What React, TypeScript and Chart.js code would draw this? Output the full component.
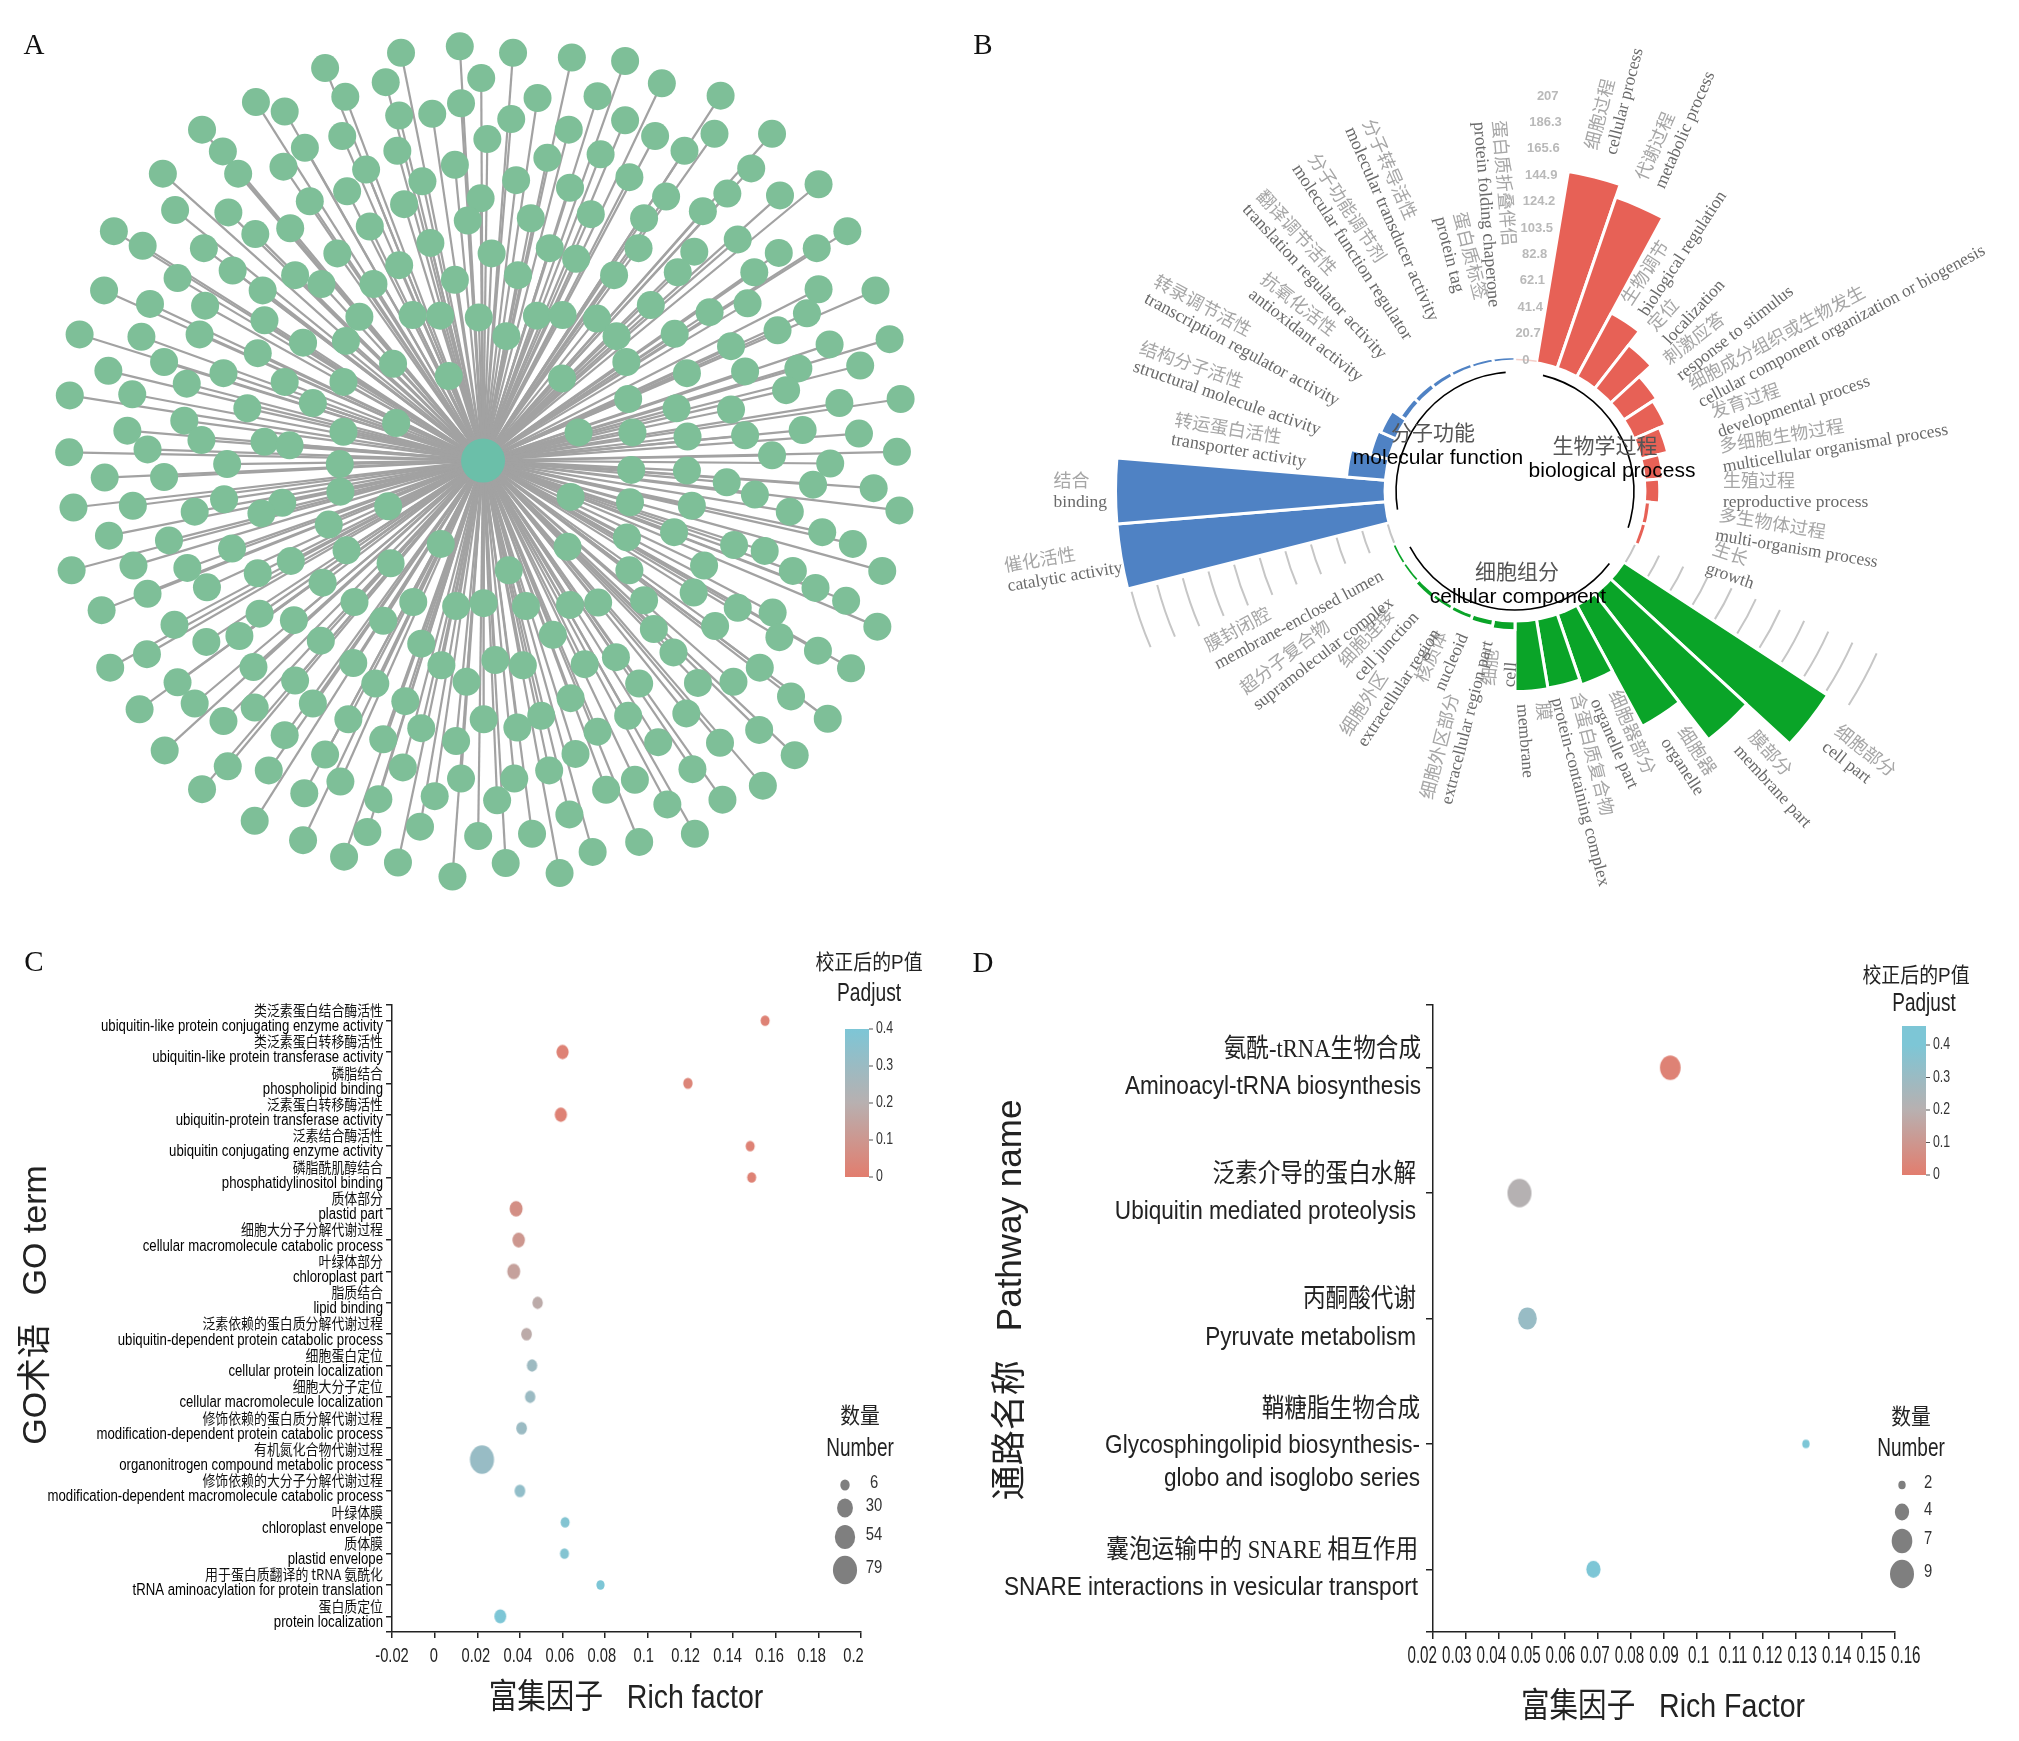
import React, { useEffect, useRef } from "react";
import { Chart, registerables } from "chart.js";

Chart.register(...registerables);

const PAGE_W = 2019;
const PAGE_H = 1741;
const SANS = '"Liberation Sans", "Noto Sans CJK SC"';
const SERIF = '"Liberation Serif", "Noto Sans CJK SC"';
const CJK = '"Noto Sans CJK SC"';

/* ---------- Panel A: network ---------- */
const hubNode = { x: 789, y: 785 };
const leafNodes: number[][] = [
  [655,90],[751,79],[838,90],[934,98],[1021,104],[1081,142],[1177,163],[531,116],[630,140],[786,133],[564,165],[878,167],[976,164],[418,174],[465,190],[652,197],[706,194],[753,176],[835,203],[1021,205],[929,221],[1070,232],[1167,228],[1261,228],[330,221],[364,258],[559,232],[498,252],[649,257],[796,237],[981,263],[894,269],[1118,257],[1227,287],[1337,314],[266,296],[389,296],[463,284],[598,289],[743,281],[843,307],[1028,302],[1188,330],[1274,333],[1384,394],[690,309],[567,326],[506,343],[931,320],[1088,335],[1148,360],[286,358],[373,362],[660,348],[785,338],[764,376],[867,372],[965,365],[1052,372],[186,394],[233,419],[417,399],[474,389],[604,386],[1205,408],[1334,423],[1272,431],[333,423],[703,414],[803,432],[898,423],[941,441],[1043,423],[1134,429],[1107,464],[380,461],[551,432],[652,452],[1232,464],[290,474],[429,495],[482,469],[525,484],[610,484],[743,477],[846,469],[1003,469],[1337,493],[1430,495],[170,495],[245,518],[335,521],[432,546],[587,540],[674,537],[719,538],[782,541],[877,538],[919,537],[975,543],[1063,520],[1159,532],[1221,517],[1318,534],[130,570],[231,574],[326,570],[495,584],[565,581],[827,573],[1007,573],[1102,569],[1270,563],[1355,587],[1453,578],[421,602],[1194,590],[642,620],[1023,617],[177,632],[268,617],[365,636],[465,651],[561,651],[733,641],[918,645],[1122,636],[1217,633],[1304,628],[1405,623],[114,674],[216,672],[305,654],[511,687],[1026,680],[1284,665],[1471,680],[1371,687],[404,696],[1105,696],[1194,698],[208,734],[301,717],[647,721],[561,736],[329,750],[432,753],[473,759],[945,737],[1033,737],[1123,744],[1217,742],[1311,733],[1403,739],[241,766],[113,771],[1465,770],[1261,776],[371,791],[555,791],[1356,790],[171,814],[268,813],[556,838],[1031,801],[1122,802],[1187,822],[1328,826],[1427,832],[120,865],[217,862],[366,851],[461,857],[634,863],[427,875],[318,872],[932,847],[1029,856],[1130,862],[1233,843],[1290,872],[1469,870],[537,894],[178,913],[276,921],[1343,907],[1393,927],[1101,907],[1024,916],[720,927],[379,935],[566,938],[475,956],[927,932],[1199,929],[1249,939],[117,972],[218,964],[306,968],[638,960],[1441,973],[1295,973],[831,972],[1150,964],[1028,972],[421,977],[338,1001],[527,993],[1332,1002],[1382,1024],[241,1012],[166,1040],[579,1026],[675,1026],[745,1033],[790,1028],[859,1033],[931,1031],[977,1027],[1052,1023],[1133,1010],[1205,1036],[1262,1044],[1433,1068],[424,1046],[285,1065],[480,1057],[626,1058],[1068,1072],[1168,1067],[903,1082],[688,1097],[391,1084],[337,1094],[524,1092],[1273,1086],[1336,1109],[240,1115],[180,1138],[414,1137],[577,1130],[721,1134],[809,1125],[854,1134],[955,1132],[1006,1120],[1100,1112],[1390,1139],[1241,1138],[290,1163],[482,1160],[613,1165],[762,1162],[1044,1165],[1140,1164],[1198,1162],[1292,1187],[228,1209],[318,1199],[416,1206],[511,1199],[662,1195],[932,1190],[1352,1225],[365,1229],[569,1226],[688,1241],[790,1226],[884,1220],[845,1240],[976,1247],[1026,1220],[1121,1216],[1240,1244],[465,1253],[626,1260],[745,1263],[1075,1265],[1176,1266],[269,1279],[531,1286],[940,1285],[1298,1287],[372,1306],[439,1313],[658,1308],[897,1313],[1131,1311],[1246,1339],[330,1345],[497,1352],[556,1332],[753,1327],[840,1327],[1037,1329],[618,1362],[710,1357],[812,1364],[990,1346],[1090,1371],[1180,1363],[416,1399],[600,1418],[686,1409],[930,1388],[1135,1421],[495,1432],[781,1425],[869,1421],[1044,1435],[562,1460],[650,1470],[826,1471],[968,1452],[914,1488],[739,1494],
];

/* ---------- Panel B: circular bars ---------- */
const bpValues = [150.4, 140, 55.4, 42, 29.4, 26, 20.4, 13.4, 10.4, 3.6, 3.4];
const ccValues = [189, 143.4, 106.4, 57.4, 53.4, 54, 6.4, 4.4, 3.4, 3, 3.8, 2.4, 2.4];
const mfValues = [209.4, 209.4, 29.4, 14, 12, 4.4, 4, 3.4, 3, 2.6, 2.4];
const sectorValues = [0, ...bpValues, 0, ...ccValues, 0, ...mfValues];
const sectorZh = ["", "细胞过程", "代谢过程", "生物调节", "定位", "刺激应答", "细胞成分组织或生物发生", "发育过程", "多细胞生物过程", "生殖过程", "多生物体过程", "生长", "", "细胞部分", "膜部分", "细胞器", "细胞器部分", "含蛋白质复合物", "膜", "细胞", "细胞外区部分", "核质体", "细胞外区", "细胞连接", "超分子复合物", "膜封闭腔", "", "催化活性", "结合", "转运蛋白活性", "结构分子活性", "转录调节活性", "抗氧化活性", "翻译调节活性", "分子功能调节剂", "分子转导活性", "蛋白质标签", "蛋白质折叠伴侣"];
const sectorEn = ["", "cellular process", "metabolic process", "biological regulation", "localization", "response to stimulus", "cellular component organization or biogenesis", "developmental process", "multicellular organismal process", "reproductive process", "multi-organism process", "growth", "", "cell part", "membrane part", "organelle", "organelle part", "protein-containing complex", "membrane", "cell", "extracellular region part", "nucleoid", "extracellular region", "cell junction", "supramolecular complex", "membrane-enclosed lumen", "", "catalytic activity", "binding", "transporter activity", "structural molecule activity", "transcription regulator activity", "antioxidant activity", "translation regulator activity", "molecular function regulator", "molecular transducer activity", "protein tag", "protein folding chaperone"];
const labelRadius = [0, 350, 336, 218, 212, 199, 204, 211, 209, 208, 205, 206, 0, 400, 339, 290, 223, 211, 213, 160, 152, 152, 160, 158, 165, 157, 0, 400, 408, 211, 204, 198, 191, 188, 186, 189, 194, 185];
const radialTicks = [0, 20.7, 41.4, 62.1, 82.8, 103.5, 124.2, 144.9, 165.6, 186.3, 207];
const groupColors = { gap: "#ffffff", bp: "#e76156", cc: "#0aa428", mf: "#4f82c4" };
const sectorColors = [
  groupColors.gap,
  ...bpValues.map(() => groupColors.bp),
  groupColors.gap,
  ...ccValues.map(() => groupColors.cc),
  groupColors.gap,
  ...mfValues.map(() => groupColors.mf),
];

/* ---------- Panel C: GO enrichment ---------- */
const goZh = ["类泛素蛋白结合酶活性", "类泛素蛋白转移酶活性", "磷脂结合", "泛素蛋白转移酶活性", "泛素结合酶活性", "磷脂酰肌醇结合", "质体部分", "细胞大分子分解代谢过程", "叶绿体部分", "脂质结合", "泛素依赖的蛋白质分解代谢过程", "细胞蛋白定位", "细胞大分子定位", "修饰依赖的蛋白质分解代谢过程", "有机氮化合物代谢过程", "修饰依赖的大分子分解代谢过程", "叶绿体膜", "质体膜", "用于蛋白质翻译的 tRNA 氨酰化", "蛋白质定位"];
const goEn = ["ubiquitin-like protein conjugating enzyme activity", "ubiquitin-like protein transferase activity", "phospholipid binding", "ubiquitin-protein transferase activity", "ubiquitin conjugating enzyme activity", "phosphatidylinositol binding", "plastid part", "cellular macromolecule catabolic process", "chloroplast part", "lipid binding", "ubiquitin-dependent protein catabolic process", "cellular protein localization", "cellular macromolecule localization", "modification-dependent protein catabolic process", "organonitrogen compound metabolic process", "modification-dependent macromolecule catabolic process", "chloroplast envelope", "plastid envelope", "tRNA aminoacylation for protein translation", "protein localization"];
const goRich = [0.155, 0.06, 0.1188, 0.0592, 0.148, 0.1487, 0.0382, 0.0394, 0.0371, 0.0483, 0.0431, 0.0457, 0.0448, 0.0408, 0.0222, 0.04, 0.0612, 0.0609, 0.0778, 0.0308];
const goCount = [5, 15, 6, 15, 5, 5, 18, 16, 18, 9, 10, 9, 9, 10, 79, 10, 5, 5, 3, 14];
const goPadj = [0.02, 0.02, 0.03, 0.02, 0.02, 0.02, 0.07, 0.1, 0.14, 0.18, 0.18, 0.29, 0.3, 0.3, 0.31, 0.33, 0.38, 0.38, 0.4, 0.4];
const goXTicks = [-0.02, 0, 0.02, 0.04, 0.06, 0.08, 0.1, 0.12, 0.14, 0.16, 0.18, 0.2];
const goSizeLegend = [6, 30, 54, 79];
const goColorTicks = [0, 0.1, 0.2, 0.3, 0.4];

/* ---------- Panel D: KEGG enrichment ---------- */
const keggLabels = [
  ["氨酰-tRNA生物合成", "Aminoacyl-tRNA biosynthesis"],
  ["泛素介导的蛋白水解", "Ubiquitin mediated proteolysis"],
  ["丙酮酸代谢", "Pyruvate metabolism"],
  ["鞘糖脂生物合成", "Glycosphingolipid biosynthesis-", "globo and isoglobo series"],
  ["囊泡运输中的 SNARE 相互作用", "SNARE interactions in vesicular transport"],
];
const keggRich = [0.0919, 0.0462, 0.0486, 0.133, 0.0686];
const keggCount = [7, 9, 6, 2, 4];
const keggPadj = [0.02, 0.21, 0.31, 0.4, 0.4];
const keggXTicks = [0.02, 0.03, 0.04, 0.05, 0.06, 0.07, 0.08, 0.09, 0.1, 0.11, 0.12, 0.13, 0.14, 0.15, 0.16];
const keggSizeLegend = [2, 4, 7, 9];
const keggColorTicks = [0, 0.1, 0.2, 0.3, 0.4];
const keggLabelEdge = [1421, 1416, 1416, 1420, 1418];

/* ---------- helpers ---------- */
const colorStops = [
  [0, 226, 125, 110],
  [0.2, 184, 176, 176],
  [0.4, 125, 198, 214],
];
function padjColor(p: number) {
  const v = Math.min(p, 0.4);
  const i = v < 0.2 ? 0 : 1;
  const a = colorStops[i];
  const b = colorStops[i + 1];
  const t = (v - a[0]) / (b[0] - a[0]);
  const mix = (k: number) => Math.round(a[k] + (b[k] - a[k]) * t);
  return `rgb(${mix(1)},${mix(2)},${mix(3)})`;
}
const goRadius = (n: number) => Math.sqrt(14 + 2 * n);
const keggRadius = (n: number) => Math.sqrt(Math.max(16, 22 * n - 28));
const RX = 0.92;
const RY = 1.09;

function ovalStyle(r: number, color: string) {
  const c = document.createElement("canvas");
  c.width = Math.ceil(2 * r * RX) + 2;
  c.height = Math.ceil(2 * r * RY) + 2;
  const g = c.getContext("2d") as CanvasRenderingContext2D;
  g.fillStyle = color;
  g.beginPath();
  g.ellipse(c.width / 2, c.height / 2, r * RX, r * RY, 0, 0, Math.PI * 2);
  g.fill();
  return c;
}

function text(
  ctx: CanvasRenderingContext2D,
  s: string,
  x: number,
  y: number,
  font: string,
  color = "#222",
  align: CanvasTextAlign = "center",
  rotation = 0,
  sx = 1
) {
  ctx.save();
  ctx.translate(x, y);
  if (rotation) ctx.rotate(rotation);
  if (sx !== 1) ctx.scale(sx, 1);
  ctx.font = font;
  ctx.fillStyle = color;
  ctx.textAlign = align;
  ctx.textBaseline = "middle";
  ctx.fillText(s, 0, 0);
  ctx.restore();
}

function fitRatio(ctx: CanvasRenderingContext2D, s: string, font: string, target: number) {
  ctx.save();
  ctx.font = font;
  const w = ctx.measureText(s).width;
  ctx.restore();
  return target / w;
}

function colorBar(
  ctx: CanvasRenderingContext2D,
  x0: number,
  x1: number,
  yZero: number,
  yFour: number,
  yTop: number,
  ticks: number[],
  labelGap: number
) {
  const g = ctx.createLinearGradient(0, yZero, 0, yTop);
  const span = yZero - yTop;
  colorStops.forEach((s) => {
    g.addColorStop(Math.min(1, (s[0] * (yZero - yFour)) / 0.4 / span), `rgb(${s[1]},${s[2]},${s[3]})`);
  });
  ctx.fillStyle = g;
  ctx.fillRect(x0, yTop, x1 - x0, yZero - yTop);
  ticks.forEach((t) => {
    const y = yZero - (t / 0.4) * (yZero - yFour);
    ctx.strokeStyle = "#555";
    ctx.lineWidth = 1;
    ctx.beginPath();
    ctx.moveTo(x1, y);
    ctx.lineTo(x1 + 4, y);
    ctx.stroke();
    text(ctx, String(t), x1 + labelGap, y, `16px ${SANS}`, "#333", "left", 0, 0.77);
  });
}

function sizeLegend(
  ctx: CanvasRenderingContext2D,
  x: number,
  ys: number[],
  counts: number[],
  radius: (n: number) => number,
  labelX: number,
  labelDy: number
) {
  counts.forEach((n, i) => {
    const r = radius(n);
    ctx.fillStyle = "#7f7f7f";
    ctx.beginPath();
    ctx.ellipse(x, ys[i], r * RX, r * RY, 0, 0, Math.PI * 2);
    ctx.fill();
    text(ctx, String(n), labelX, ys[i] + labelDy, `19px ${SANS}`, "#333", "center", 0, 0.78);
  });
}

const hidden = { legend: { display: false }, tooltip: { enabled: false } };

/* ---------- chart builders ---------- */
function buildA(canvas: HTMLCanvasElement) {
  const spokes = leafNodes.map((n) => ({
    type: "scatter",
    data: [hubNode, { x: n[0], y: n[1] }],
    showLine: true,
    borderColor: "#a2a2a2",
    borderWidth: 2.2,
    pointRadius: 0,
  }));
  return new Chart(canvas, {
    type: "scatter",
    data: {
      datasets: [
        { data: [hubNode], pointRadius: 22, backgroundColor: "#6bbfa9", borderWidth: 0 },
        {
          data: leafNodes.map((n) => ({ x: n[0], y: n[1] })),
          pointRadius: 14,
          backgroundColor: "#7ebf98",
          borderWidth: 0,
        },
        ...spokes,
      ] as any,
    },
    options: {
      animation: false,
      responsive: false,
      events: [],
      layout: { autoPadding: false, padding: { left: 0, top: 0, right: PAGE_W - 960, bottom: PAGE_H - 920 } },
      plugins: hidden,
      scales: {
        x: { display: false, type: "linear", min: 0, max: 1568 },
        y: { display: false, type: "linear", min: 0, max: 1568, reverse: true },
      },
    },
    plugins: [
      {
        id: "letterA",
        afterDraw(c: any) {
          text(c.ctx, "A", 34, 46, `29px ${SERIF}`, "#111");
        },
      },
    ],
  } as any);
}

function buildB(canvas: HTMLCanvasElement) {
  const N = sectorValues.length;
  const step = 360 / N;
  const rad = (d: number) => ((d - 90) * Math.PI) / 180;
  return new Chart(canvas, {
    type: "polarArea",
    data: {
      labels: sectorEn,
      datasets: [
        {
          data: sectorValues,
          backgroundColor: sectorColors,
          borderColor: "#ffffff",
          borderWidth: 3,
        },
      ],
    },
    options: {
      animation: false,
      responsive: false,
      events: [],
      layout: { autoPadding: false, padding: { left: 1115, right: PAGE_W - 1915, top: 91, bottom: PAGE_H - 891 } },
      plugins: hidden,
      scales: { r: { display: false, min: -102.7, max: 209.8 } },
    },
    plugins: [
      {
        id: "circular",
        afterDraw(c: any) {
          const ctx: CanvasRenderingContext2D = c.ctx;
          const s = c.scales.r;
          const cx = s.xCenter;
          const cy = s.yCenter;
          const R0 = s.getDistanceFromCenterForValue(0);
          ctx.fillStyle = "#fff";
          ctx.beginPath();
          ctx.arc(cx, cy, R0, 0, Math.PI * 2);
          ctx.fill();

          [12, 26].forEach((k) => {
            radialTicks.forEach((v) => {
              ctx.strokeStyle = "#c6c6c6";
              ctx.lineWidth = 2;
              ctx.beginPath();
              ctx.arc(cx, cy, s.getDistanceFromCenterForValue(v), rad(k * step + 0.5), rad((k + 1) * step - 0.5));
              ctx.stroke();
            });
          });
          ctx.strokeStyle = "#f4cfc9";
          ctx.lineWidth = 1.5;
          ctx.beginPath();
          ctx.arc(cx, cy, R0, rad(0.5), rad(step));
          ctx.stroke();

          [
            [13.6, 108],
            [127.5, 242],
            [261, 355.5],
          ].forEach(([a, b]) => {
            ctx.strokeStyle = "#000";
            ctx.lineWidth = 1.6;
            ctx.beginPath();
            ctx.arc(cx, cy, R0 - 12.5, rad(a), rad(b));
            ctx.stroke();
          });

          const axisAngle = ((step / 2) * Math.PI) / 180;
          radialTicks.forEach((v) => {
            const r = s.getDistanceFromCenterForValue(v);
            text(ctx, String(v), cx + r * Math.sin(axisAngle), cy - r * Math.cos(axisAngle), `bold 13px ${SANS}`, "#b9b9b9");
          });

          sectorEn.forEach((en, k) => {
            if (!en) return;
            const theta = (k + 0.5) * step;
            const right = theta < 180;
            const molecular = k >= 29;
            const enFont = `${molecular ? 18 : 17.5}px ${SERIF}`;
            ctx.save();
            ctx.translate(cx, cy);
            ctx.rotate((right ? theta - 90 : theta + 90) * Math.PI / 180);
            ctx.textAlign = "left";
            ctx.textBaseline = "middle";
            ctx.font = `18px ${CJK}`;
            const wZh = ctx.measureText(sectorZh[k]).width;
            ctx.font = enFont;
            const wEn = ctx.measureText(en).width;
            const x0 = right ? labelRadius[k] : -(labelRadius[k] + Math.max(wZh, wEn));
            ctx.fillStyle = "#6a6a6a";
            ctx.fillText(en, x0, molecular ? 6 : 11);
            ctx.font = `18px ${CJK}`;
            ctx.fillStyle = "#a6a6a6";
            ctx.fillText(sectorZh[k], x0, molecular ? -15 : -11);
            ctx.restore();
          });

          const zh = `21px ${CJK}`;
          const en = `21px ${SANS}`;
          text(ctx, "分子功能", 1433, 432, zh, "#555");
          text(ctx, "molecular function", 1438, 458, en, "#000");
          text(ctx, "生物学过程", 1605, 445, zh, "#555");
          text(ctx, "biological process", 1612, 471, en, "#000");
          text(ctx, "细胞组分", 1517, 571, zh, "#555");
          text(ctx, "cellular component", 1518, 597, en, "#000");
          text(ctx, "B", 983, 46, `29px ${SERIF}`, "#111");
        },
      },
    ],
  } as any);
}

const axisCommon = {
  grid: { drawOnChartArea: false, drawTicks: true, tickLength: 6, color: "#222", lineWidth: 1.5 },
  border: { color: "#222", width: 1.5 },
  ticks: { display: false, autoSkip: false, maxRotation: 0 },
};

function buildC(canvas: HTMLCanvasElement) {
  return new Chart(canvas, {
    type: "bubble",
    data: {
      datasets: [
        {
          data: goRich.map((x, i) => ({ x, y: i, r: goRadius(goCount[i]) })),
          pointStyle: goCount.map((n, i) => ovalStyle(goRadius(n), padjColor(goPadj[i]))),
          backgroundColor: goPadj.map(padjColor),
          borderWidth: 0,
          clip: false,
        },
      ],
    },
    options: {
      animation: false,
      responsive: false,
      events: [],
      layout: { autoPadding: false, padding: { left: 0, top: 1005, right: PAGE_W - 861, bottom: 0 } },
      plugins: hidden,
      scales: {
        x: {
          type: "linear",
          min: -0.02,
          max: 0.2,
          ...axisCommon,
          afterBuildTicks: (s: any) => {
            s.ticks = goXTicks.map((value) => ({ value }));
          },
          afterFit: (s: any) => {
            s.height = PAGE_H - 1632;
          },
        },
        y: {
          type: "linear",
          min: -0.5,
          max: goEn.length - 0.5,
          reverse: true,
          ...axisCommon,
          afterBuildTicks: (s: any) => {
            s.ticks = [-0.5, ...goEn.map((_, i) => i), goEn.length - 0.5].map((value) => ({ value }));
          },
          afterFit: (s: any) => {
            s.width = 392;
          },
        },
      },
    },
    plugins: [
      {
        id: "panelC",
        afterDraw(c: any) {
          const ctx: CanvasRenderingContext2D = c.ctx;
          const xs = c.scales.x;
          const ys = c.scales.y;
          const enFont = `16px ${SANS}`;
          const sxEn = fitRatio(ctx, goEn[15], enFont, 335.5);
          goEn.forEach((en, i) => {
            const y = ys.getPixelForValue(i);
            text(ctx, goZh[i], 383, y - 10.4, `15px ${CJK}`, "#111", "right", 0, 0.86);
            text(ctx, en, 383, y + 6, enFont, "#000", "right", 0, sxEn);
          });
          const left = xs.getPixelForValue(goXTicks[0]);
          goXTicks.forEach((v) => {
            const px = xs.getPixelForValue(v);
            text(ctx, String(v), left + (px - left) * 0.984, 1656, `21px ${SANS}`, "#222", "center", 0, 0.7);
          });
          text(ctx, "C", 34, 963, `29px ${SERIF}`, "#111");
          text(ctx, "GO术语   GO term", 37, 1305, `34px ${SANS}`, "#222", "center", -Math.PI / 2);
          text(ctx, "富集因子   Rich factor", 626, 1699, `34px ${SANS}`, "#222", "center", 0, 0.84);
          text(ctx, "校正后的P值", 869, 963, `21px ${SANS}`, "#222", "center", 0, 0.9);
          text(ctx, "Padjust", 869, 994, `25px ${SANS}`, "#222", "center", 0, 0.77);
          colorBar(ctx, 845, 869, 1177, 1029, 1029, goColorTicks, 7);
          text(ctx, "数量", 860, 1417, `22px ${SANS}`, "#222", "center", 0, 0.9);
          text(ctx, "Number", 860, 1449, `25px ${SANS}`, "#222", "center", 0, 0.76);
          sizeLegend(ctx, 845, [1485, 1508, 1537, 1570], goSizeLegend, goRadius, 874, -2);
        },
      },
    ],
  } as any);
}

function buildD(canvas: HTMLCanvasElement) {
  return new Chart(canvas, {
    type: "bubble",
    data: {
      datasets: [
        {
          data: keggRich.map((x, i) => ({ x, y: i, r: keggRadius(keggCount[i]) })),
          pointStyle: keggCount.map((n, i) => ovalStyle(keggRadius(n), padjColor(keggPadj[i]))),
          backgroundColor: keggPadj.map(padjColor),
          borderWidth: 0,
          clip: false,
        },
      ],
    },
    options: {
      animation: false,
      responsive: false,
      events: [],
      layout: { autoPadding: false, padding: { left: 0, top: 1005, right: PAGE_W - 1895, bottom: 0 } },
      plugins: hidden,
      scales: {
        x: {
          type: "linear",
          min: 0.02,
          max: 0.16,
          ...axisCommon,
          grid: { ...axisCommon.grid, tickLength: 7 },
          afterBuildTicks: (s: any) => {
            s.ticks = keggXTicks.map((value) => ({ value }));
          },
          afterFit: (s: any) => {
            s.height = PAGE_H - 1632;
          },
        },
        y: {
          type: "linear",
          min: -0.5,
          max: keggLabels.length - 0.5,
          reverse: true,
          ...axisCommon,
          grid: { ...axisCommon.grid, tickLength: 7 },
          afterBuildTicks: (s: any) => {
            s.ticks = [-0.5, ...keggLabels.map((_, i) => i), keggLabels.length - 0.5].map((value) => ({ value }));
          },
          afterFit: (s: any) => {
            s.width = 1433;
          },
        },
      },
    },
    plugins: [
      {
        id: "panelD",
        afterDraw(c: any) {
          const ctx: CanvasRenderingContext2D = c.ctx;
          const xs = c.scales.x;
          const ys = c.scales.y;
          const enFont = `26px ${SANS}`;
          const sxEn = fitRatio(ctx, keggLabels[4][1], enFont, 414);
          keggLabels.forEach((lines, i) => {
            const y = ys.getPixelForValue(i);
            const offsets = lines.length === 3 ? [-34, 2, 35] : [-18, 19];
            lines.forEach((line, j) => {
              if (j === 0) text(ctx, line, keggLabelEdge[i], y + offsets[j], `26px ${SERIF}`, "#222", "right", 0, 0.87);
              else text(ctx, line, keggLabelEdge[i], y + offsets[j], enFont, "#222", "right", 0, sxEn);
            });
          });
          const mid = (xs.left + xs.right) / 2;
          keggXTicks.forEach((v) => {
            const px = xs.getPixelForValue(v);
            text(ctx, String(v), mid + (px - mid) * 1.0466, 1657, `23px ${SANS}`, "#222", "center", 0, 0.66);
          });
          text(ctx, "D", 983, 964, `29px ${SERIF}`, "#111");
          text(ctx, "通路名称   Pathway name", 1011, 1300, `35px ${SANS}`, "#222", "center", -Math.PI / 2);
          text(ctx, "富集因子   Rich Factor", 1663, 1708, `34px ${SANS}`, "#222", "center", 0, 0.84);
          text(ctx, "校正后的P值", 1916, 976, `21px ${SANS}`, "#222", "center", 0, 0.9);
          text(ctx, "Padjust", 1924, 1004, `25px ${SANS}`, "#222", "center", 0, 0.76);
          colorBar(ctx, 1902, 1926, 1175, 1045, 1026, keggColorTicks, 7);
          text(ctx, "数量", 1911, 1418, `22px ${SANS}`, "#222", "center", 0, 0.9);
          text(ctx, "Number", 1911, 1449, `25px ${SANS}`, "#222", "center", 0, 0.76);
          sizeLegend(ctx, 1902, [1485, 1512, 1541, 1574], keggSizeLegend, keggRadius, 1928, -2);
        },
      },
    ],
  } as any);
}

const builders = [buildA, buildB, buildC, buildD];

export default function App() {
  const refs = useRef<(HTMLCanvasElement | null)[]>([]);
  useEffect(() => {
    const charts = builders.map((b, i) => b(refs.current[i] as HTMLCanvasElement));
    return () => charts.forEach((c) => c.destroy());
  }, []);
  return (
    <div style={{ position: "fixed", left: 0, top: 0, width: PAGE_W, height: PAGE_H, overflow: "hidden", background: "#fff" }}>
      {builders.map((_, i) => (
        <canvas
          key={i}
          ref={(el) => {
            refs.current[i] = el;
          }}
          width={PAGE_W}
          height={PAGE_H}
          style={{ position: "absolute", left: 0, top: 0 }}
        />
      ))}
    </div>
  );
}
